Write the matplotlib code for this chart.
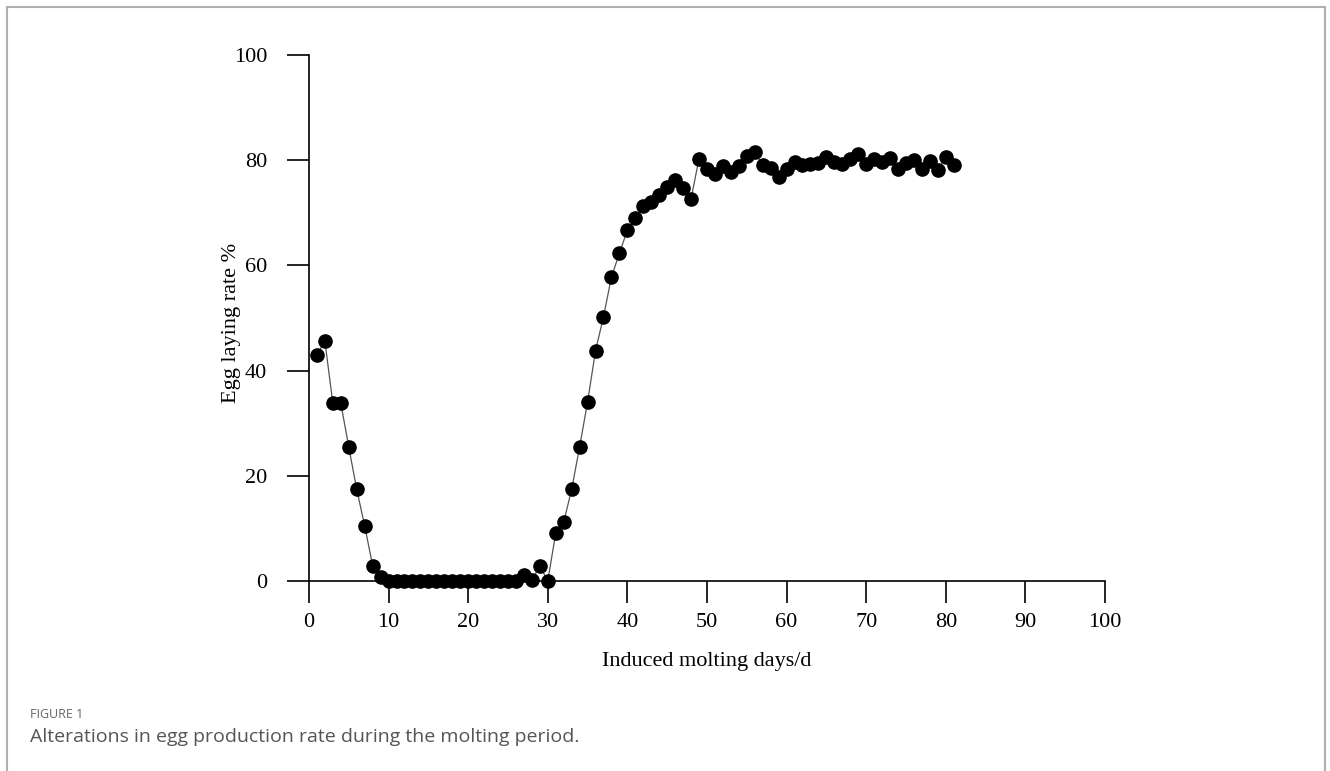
import matplotlib.pyplot as plt
from matplotlib.patches import Rectangle

# Egg laying rate (%) per day of induced molting
days = list(range(1, 82))
rate = [43.0, 45.6, 33.8, 33.8, 25.5, 17.4, 10.5, 2.9, 0.8, 0.0,
        0.0, 0.0, 0.0, 0.0, 0.0, 0.0, 0.0, 0.0, 0.0, 0.0,
        0.0, 0.0, 0.0, 0.0, 0.0, 0.0, 1.2, 0.1, 2.9, 0.0,
        9.1, 11.2, 17.4, 25.5, 34.0, 43.8, 50.2, 57.8, 62.3, 66.7,
        69.0, 71.2, 72.1, 73.3, 74.9, 76.3, 74.8, 72.6, 80.3, 78.3,
        77.3, 78.9, 77.7, 78.9, 80.8, 81.6, 79.0, 78.5, 76.8, 78.3,
        79.7, 79.1, 79.3, 79.5, 80.6, 79.6, 79.2, 80.2, 81.2, 79.3,
        80.2, 79.6, 80.4, 78.3, 79.4, 80.0, 78.4, 79.8, 78.1, 80.7,
        79.0]

xticks = list(range(0, 101, 10))
yticks = list(range(0, 101, 20))

plt.rcParams['font.family'] = ['Liberation Serif', 'DejaVu Serif']

fig = plt.figure(figsize=(13.3, 7.71), dpi=100)
ax = fig.add_axes([0.2323, 0.2464, 0.5985, 0.6823])

ax.plot(days, rate, color='#555555', lw=0.9, marker='o', ms=9.5,
        mfc='black', mec='black', clip_on=False, zorder=3)

ax.set_xlim(0, 100)
ax.set_ylim(0, 100)
ax.set_xticks(xticks)
ax.set_yticks(yticks)
ax.spines['top'].set_visible(False)
ax.spines['right'].set_visible(False)
for s in ['left', 'bottom']:
    ax.spines[s].set_linewidth(1.2)
ax.tick_params(direction='out', length=16, width=1.2, labelsize=16)
ax.tick_params(axis='x', pad=7)
ax.tick_params(axis='y', pad=14)

ax.set_xlabel('Induced molting days/d', fontsize=16)
ax.set_ylabel('Egg laying rate %', fontsize=16, va='center')
ax.xaxis.set_label_coords(0.5, -0.135)
ax.yaxis.set_label_coords(-0.097, 0.49)

# page frame and caption
fig.patches.append(Rectangle((7 / 1330, -0.1), (1325 - 7) / 1330, 1 - 7 / 771 + 0.1,
                             transform=fig.transFigure, fill=False,
                             edgecolor='#b0b0b0', lw=1.5))
fig.text(30 / 1330, 1 - 714 / 771, 'FIGURE 1', family=['Open Sans', 'DejaVu Sans'],
         fontsize=9, color='#666666', va='center')
fig.text(30 / 1330, 1 - 737 / 771, 'Alterations in egg production rate during the molting period.',
         family=['Open Sans', 'DejaVu Sans'], fontsize=14, color='#555555', va='center')

fig.savefig('out.png', dpi=100)
